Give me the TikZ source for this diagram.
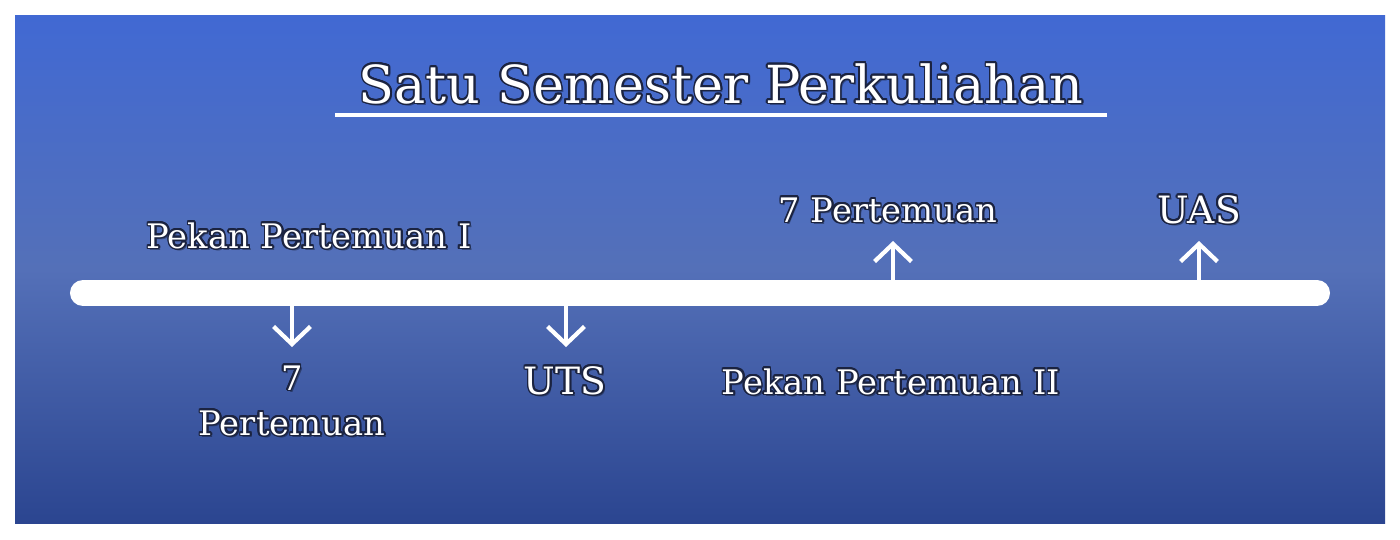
\documentclass[tikz,border=0pt]{standalone}
\usepackage{fontspec}
\setmainfont{DejaVu Serif}
\usetikzlibrary{arrows.meta}
\usepackage[copies]{contour}
\contourlength{0.45pt}
\definecolor{bgtop}{HTML}{4169D3}
\definecolor{bgmid}{HTML}{5470B8}
\definecolor{bgbot}{HTML}{2B4590}
\definecolor{outl}{HTML}{1B2340}
\newcommand{\wtxt}[1]{\contour{outl}{#1}}
\begin{document}
\begin{tikzpicture}[x=0.01cm,y=-0.01cm,
  lbl/.style={text=white, inner sep=0pt, anchor=base},
  shd/.style={text=black, opacity=0.35, inner sep=0pt, anchor=base},
  titlefont/.style={font=\fontsize{14.9}{18}\selectfont},
  labfont/.style={font=\fontsize{9.6}{12}\selectfont},
  bigfont/.style={font=\fontsize{10.7}{13}\selectfont},
  arr/.style={draw=white, line width=1.2pt, -{Straight Barb[length=5pt,width=10.5pt,line width=1.2pt]}},
  bar/.style={draw=white, line width=0.26cm, line cap=round}]
\useasboundingbox (0,0) rectangle (1400,539);
\shade[top color=bgtop, bottom color=bgbot, middle color=bgmid] (15,15) rectangle (1385,523);
% title
\node[shd,titlefont] (titleS) at (723,105) {Satu Semester Perkuliahan};
\node[lbl,titlefont] (title) at (721,103) {\wtxt{Satu Semester Perkuliahan}};
\coordinate (ulL) at (335,115);
\coordinate (ulR) at (1107,115);
\draw[white, line width=0.9pt] (ulL) -- (ulR);
% bar
\coordinate (barL) at (83,293);
\coordinate (barR) at (1317,293);
\draw[bar] (barL) -- (barR);
% arrows
\coordinate (a1s) at (292,306); \coordinate (a1e) at (292,347);
\coordinate (a2s) at (566,306); \coordinate (a2e) at (566,347);
\coordinate (a3s) at (893,280); \coordinate (a3e) at (893,241);
\coordinate (a4s) at (1199,280); \coordinate (a4e) at (1199,241);
\draw[arr] (a1s) -- (a1e);
\draw[arr] (a2s) -- (a2e);
\draw[arr] (a3s) -- (a3e);
\draw[arr] (a4s) -- (a4e);
% labels
\node[shd,labfont] (p1S) at (311,250) {Pekan Pertemuan I};
\node[lbl,labfont] (p1) at (309,248) {\wtxt{Pekan Pertemuan I}};
\node[shd,labfont] (t7S) at (890,224) {7 Pertemuan};
\node[lbl,labfont] (t7) at (888,222) {\wtxt{7 Pertemuan}};
\node[shd,bigfont] (uasS) at (1201,225) {UAS};
\node[lbl,bigfont] (uas) at (1199,223) {\wtxt{UAS}};
\node[shd,labfont] (b7S) at (294,392) {7};
\node[lbl,labfont] (b7) at (292,390) {\wtxt{7}};
\node[shd,labfont] (bpS) at (294,437) {Pertemuan};
\node[lbl,labfont] (bp) at (292,435) {\wtxt{Pertemuan}};
\node[shd,bigfont] (utsS) at (567,396) {UTS};
\node[lbl,bigfont] (uts) at (565,394) {\wtxt{UTS}};
\node[shd,labfont] (p2S) at (893,396) {Pekan Pertemuan II};
\node[lbl,labfont] (p2) at (891,394) {\wtxt{Pekan Pertemuan II}};
\end{tikzpicture}
\end{document}
